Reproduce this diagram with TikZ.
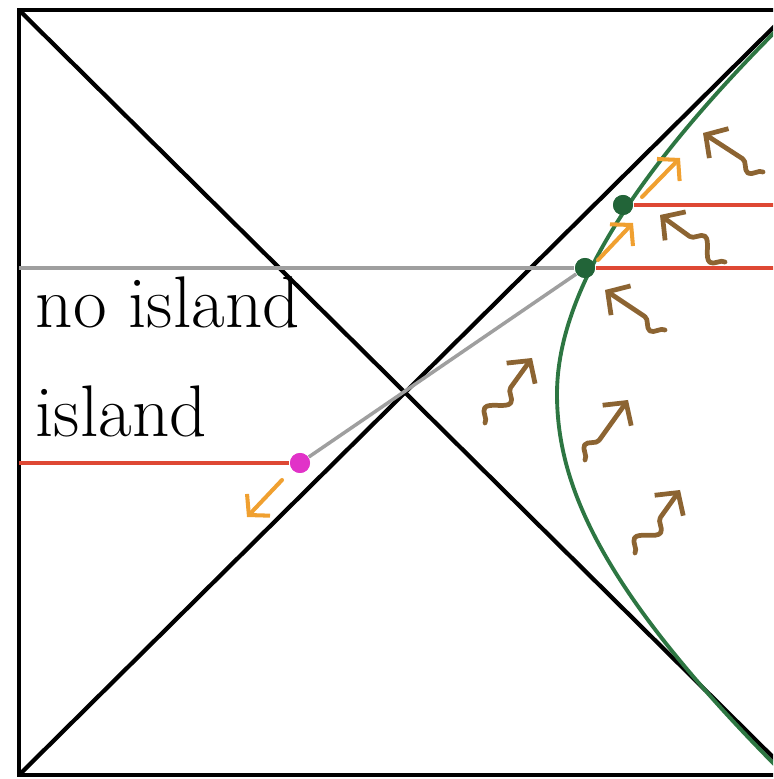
\documentclass[tikz,border=0pt]{standalone}
\usetikzlibrary{arrows.meta,decorations.pathmorphing}

\definecolor{horizongreen}{RGB}{45,118,66}
\definecolor{dotgreen}{RGB}{34,100,56}
\definecolor{islandred}{RGB}{222,72,52}
\definecolor{raybrown}{RGB}{140,100,50}
\definecolor{fluxorange}{RGB}{240,160,48}
\definecolor{qesmagenta}{RGB}{225,50,200}

\tikzset{
  frameline/.style={black,line width=1.2pt},
  greyline/.style={gray!75,line width=1pt},
  redline/.style={islandred,line width=1.1pt},
  hawking/.style={raybrown,line width=1.35pt,line cap=round,line join=round,
    decoration={snake,amplitude=2.6pt,segment length=11pt,pre length=0pt,post length=9pt},
    decorate,-{Straight Barb[length=4.5pt,width=10pt]}},
  flux/.style={fluxorange,line width=1.15pt,line cap=round,-{Straight Barb[length=4pt,width=9pt]}},
  gdot/.style={circle,fill=dotgreen,inner sep=0pt,minimum size=0.2cm},
  mdot/.style={circle,fill=qesmagenta,inner sep=0pt,minimum size=0.2cm},
  label/.style={anchor=base west,inner sep=0pt,font=\fontsize{20.8}{25}\selectfont}
}

\begin{document}
\begin{tikzpicture}
\useasboundingbox (0,0) rectangle (7.73,7.79);
\clip (0,0) rectangle (7.73,7.79);

% corners of the diagram
\coordinate (bl) at (0.19,0.04);
\coordinate (tl) at (0.19,7.69);
\coordinate (br) at (7.91,0.04);
\coordinate (tr) at (7.91,7.69);

\draw[frameline] (bl) rectangle (tr);
\draw[frameline] (tl) -- (br);
\draw[frameline] (bl) -- (tr);

% horizon of the bath
\draw[horizongreen,line width=1.1pt] (7.98,7.70) .. controls (6.50,6.25) and (5.57,4.95) .. (5.57,3.85)
  .. controls (5.57,2.90) and (6.05,1.82) .. (7.95,-0.06);

% points on the curve
\node[gdot] (p0) at (5.85,5.11) {};
\node[gdot] (p1) at (6.23,5.74) {};
\node[mdot] (q0) at (3.00,3.16) {};

\coordinate (left0) at (0.19,5.11);
\coordinate (left1) at (0.19,3.16);
\coordinate (right0) at (7.91,5.11);
\coordinate (right1) at (7.91,5.74);

\draw[greyline] (left0) -- (p0);
\draw[greyline] (p0) -- (q0);
\draw[redline] (left1) -- (q0);
\draw[redline] (p0) -- (right0);
\draw[redline] (p1) -- (right1);
\node[gdot] at (p0) {};
\node[gdot] at (p1) {};
\node[mdot] at (q0) {};

\node[label] (noisland) at (0.35,4.51) {no island};
\node[label] (island) at (0.35,3.42) {island};

% outgoing flux
\draw[flux] (5.98,5.19) -- (6.33,5.56);
\draw[flux] (6.42,5.82) -- (6.80,6.21);
\draw[flux] (2.82,2.99) -- (2.47,2.62);

% radiation
\draw[hawking] (7.63,6.07) -- (7.03,6.46);
\draw[hawking] (7.25,5.17) -- (6.60,5.64);
\draw[hawking] (6.65,4.49) -- (6.05,4.89);
\draw[hawking] (4.85,3.56) -- (5.32,4.21);
\draw[hawking] (5.85,3.19) -- (6.28,3.79);
\draw[hawking] (6.35,2.26) -- (6.80,2.89);
\end{tikzpicture}
\end{document}
